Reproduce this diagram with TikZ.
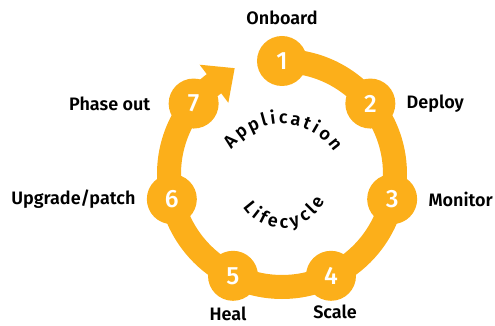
\documentclass[tikz,border=0pt]{standalone}
\usepackage{fontspec}
\setmainfont{Fira Sans}
\newfontfamily\lblfont{Fira Sans SemiBold}
\newfontfamily\arcfont{Fira Sans Medium}
\usetikzlibrary{positioning,arrows.meta}
\definecolor{lcorange}{RGB}{252,175,26}

\begin{document}
\begin{tikzpicture}[x=1pt,y=1pt]
    \tikzset{
        stage/.style = {circle, fill=lcorange, minimum size=50pt, inner sep=0pt, text=white, font=\arcfont\fontsize{25}{25}\selectfont},
        lbl/.style = {font=\lblfont\fontsize{18}{22}\selectfont, inner sep=0pt},
        band/.style = {draw=lcorange, line width=24pt, -{Triangle[width=46pt,length=26pt]}},
        arcletter/.style = {font=\lblfont\fontsize{18}{18}\selectfont, inner sep=0pt, anchor=base}
    }
    \useasboundingbox (-282,-152) rectangle (213,174);

    \path [band] (90:113pt) arc[start angle=90, end angle=-233, radius=113pt] -- ++(37:26pt);

    \node[stage](s1) at (90:113pt){1};
    \node[stage](s2) at (38.57:113pt){2};
    \node[stage](s3) at (-12.86:113pt){3};
    \node[stage](s4) at (-64.29:113pt){4};
    \node[stage](s5) at (-115.71:113pt){5};
    \node[stage](s6) at (-167.14:113pt){6};
    \node[stage](s7) at (141.43:113pt){7};

    \node[lbl](onboard)[above = 11pt of s1]{Onboard};
    \node[lbl](deploy)[right = 11pt of s2]{Deploy};
    \node[lbl](monitor)[right = 11pt of s3]{Monitor};
    \node[lbl](scale)[below = 4pt of s4, xshift=4pt]{Scale};
    \node[lbl](heal)[below = 6pt of s5, xshift=-5pt]{Heal};
    \node[lbl](upgrade)[left = 11pt of s6]{Upgrade/patch};
    \node[lbl](phaseout)[left = 18pt of s7]{Phase out};

    % curved title, one letter at a time
    \coordinate (appctr) at (0,-12);
    \coordinate (lifectr) at (0,-7);
    \foreach \ch/\ang [count=\i] in {A/139.4, p/127.2, p/115.2, l/105.4, i/97.8, c/88.9, a/78.1, t/68.1, i/60.0, o/50.2, n/38.2}
        \node[arcletter, rotate=\ang-90](app\i) at ([shift={(\ang:62pt)}]appctr){\ch};
    \foreach \ch/\ang [count=\i] in {L/219.0, i/232.2, f/243.5, e/257.5, c/272.7, y/287.7, c/302.7, l/315.5, e/329.0}
        \node[arcletter, rotate=\ang+90](life\i) at ([shift={(\ang:47pt)}]lifectr){\ch};

\end{tikzpicture}
\end{document}
